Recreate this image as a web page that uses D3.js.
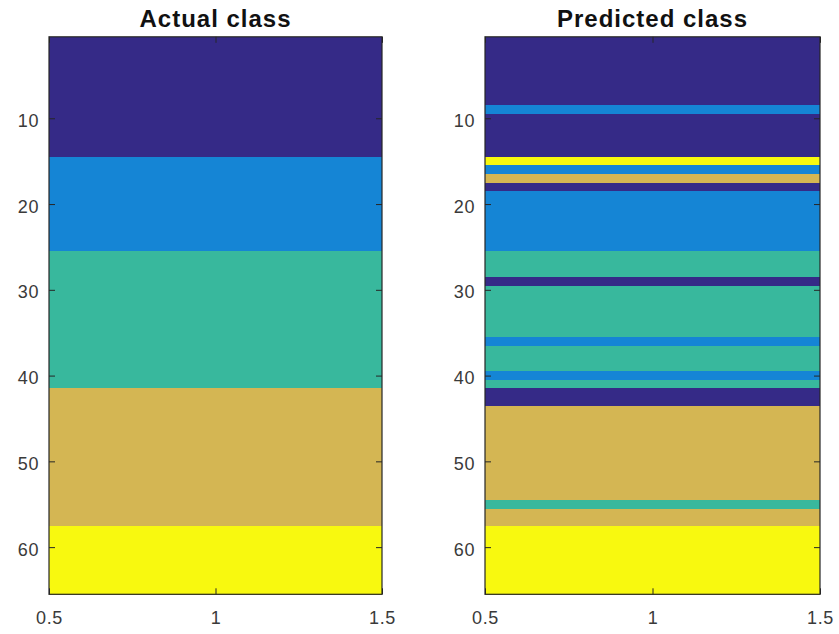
<!DOCTYPE html>
<html>
<head>
<meta charset="utf-8">
<script src="https://cdn.jsdelivr.net/npm/d3@7"></script>
<style>
  html, body { margin: 0; padding: 0; background: #ffffff; }
  svg { display: block; }
  text { font-family: "Liberation Sans", Arial, Helvetica, sans-serif; }
</style>
</head>
<body>
<svg id="chart" width="839" height="634"></svg>
<script>
// Class label per sample (rows 1..65), one column each
const actualClass = [
  1,1,1,1,1,1,1,1,1,1,1,1,1,1,
  2,2,2,2,2,2,2,2,2,2,2,
  3,3,3,3,3,3,3,3,3,3,3,3,3,3,3,3,
  4,4,4,4,4,4,4,4,4,4,4,4,4,4,4,4,
  5,5,5,5,5,5,5,5
];
const predictedClass = [
  1,1,1,1,1,1,1,1,
  2,
  1,1,1,1,1,
  5,
  2,
  4,
  1,
  2,2,2,2,2,2,2,
  3,3,3,
  1,
  3,3,3,3,3,3,
  2,
  3,3,3,
  2,
  3,
  1,1,
  4,4,4,4,4,4,4,4,4,4,4,
  3,
  4,4,
  5,5,5,5,5,5,5,5
];
const panelTitles = ["Actual class", "Predicted class"];
const classes = [1, 2, 3, 4, 5];
const classColors = ["#352a87", "#1585d5", "#38b89d", "#d4b653", "#f8f90f"];
const yTickValues = [10, 20, 30, 40, 50, 60];
const xTickValues = [0.5, 1, 1.5];

const svg = d3.select("#chart");
const color = d3.scaleOrdinal().domain(classes).range(classColors);

const panels = [
  { title: panelTitles[0], values: actualClass, left: 49, right: 382 },
  { title: panelTitles[1], values: predictedClass, left: 485, right: 820 }
];
const plotTop = 36.8, plotBottom = 594.3;
const tickLen = 6;

panels.forEach(p => {
  const x = d3.scaleLinear().domain([0.5, 1.5]).range([p.left, p.right]);
  const y = d3.scaleLinear().domain([0.5, p.values.length + 0.5]).range([plotTop, plotBottom]);
  const g = svg.append("g");

  // one cell per row of the label image
  g.selectAll("rect.cell")
    .data(p.values)
    .join("rect")
    .attr("class", "cell")
    .attr("x", x(0.5))
    .attr("width", x(1.5) - x(0.5))
    .attr("y", (d, i) => y(i + 0.5))
    .attr("height", (d, i) => y(i + 1.5) - y(i + 0.5) + 0.4)
    .attr("fill", d => color(d))
    .attr("shape-rendering", "crispEdges");

  const fmt = d3.format("");
  const style = sel => {
    sel.select(".domain").remove();
    sel.selectAll(".tick line").attr("stroke", "#262626").attr("stroke-width", 1);
    sel.selectAll(".tick text")
      .attr("fill", "#3a3a3a")
      .style("font-size", "18px")
      .style("letter-spacing", "0.6px");
  };

  // left axis with labels, ticks pointing inward
  g.append("g").attr("transform", `translate(${x(0.5)},0)`)
    .call(d3.axisLeft(y).tickValues(yTickValues).tickFormat(fmt).tickSizeInner(-tickLen).tickSizeOuter(0).tickPadding(10))
    .call(style)
    .call(s => s.selectAll(".tick text").attr("dy", "0.45em"));
  // right axis ticks only
  g.append("g").attr("transform", `translate(${x(1.5)},0)`)
    .call(d3.axisRight(y).tickValues(yTickValues).tickFormat("").tickSizeInner(-tickLen).tickSizeOuter(0))
    .call(style);
  // bottom axis with labels
  g.append("g").attr("transform", `translate(0,${plotBottom})`)
    .call(d3.axisBottom(x).tickValues(xTickValues).tickFormat(fmt).tickSizeInner(-tickLen).tickSizeOuter(0).tickPadding(17))
    .call(style);
  // top axis ticks only
  g.append("g").attr("transform", `translate(0,${plotTop})`)
    .call(d3.axisTop(x).tickValues(xTickValues).tickFormat("").tickSizeInner(-tickLen).tickSizeOuter(0))
    .call(style);

  // axes box
  g.append("rect")
    .attr("x", x(0.5)).attr("y", plotTop)
    .attr("width", x(1.5) - x(0.5)).attr("height", plotBottom - plotTop)
    .attr("fill", "none").attr("stroke", "#262626").attr("stroke-width", 1.2);

  g.append("text")
    .attr("x", (p.left + p.right) / 2)
    .attr("y", 26.5)
    .attr("text-anchor", "middle")
    .attr("fill", "#111")
    .style("font-size", "24px")
    .style("font-weight", "bold")
    .style("letter-spacing", "1px")
    .text(p.title);
});
</script>
</body>
</html>
